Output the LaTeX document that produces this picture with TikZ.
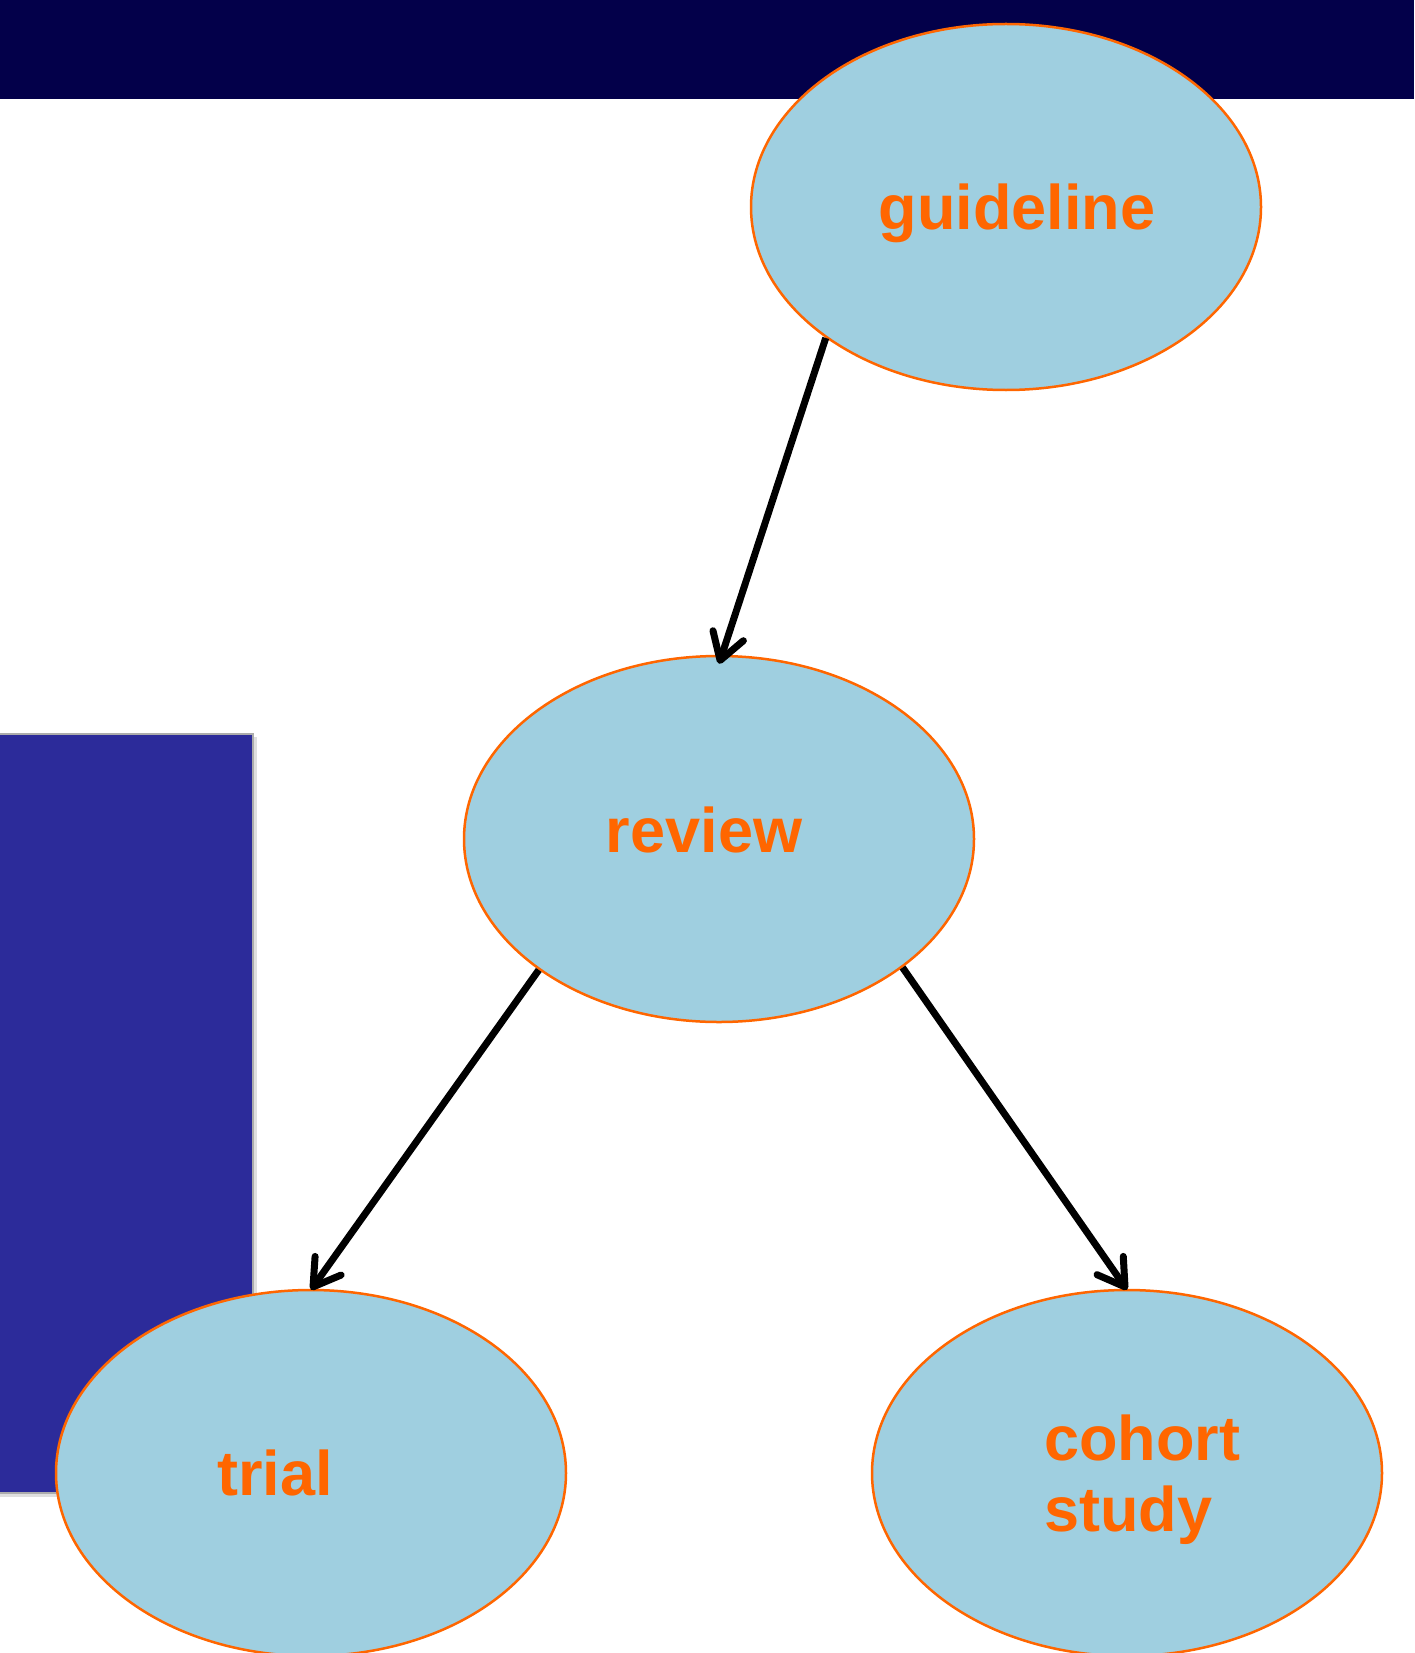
\documentclass[tikz,border=0pt]{standalone}
\usepackage{fontspec}
\setmainfont{Liberation Sans}
\usetikzlibrary{shapes.geometric,arrows.meta}
\definecolor{barnavy}{HTML}{03004A}
\definecolor{panelblue}{HTML}{2C2B9A}
\definecolor{bubble}{HTML}{9FCFE0}
\definecolor{accent}{HTML}{FF6600}
\begin{document}
\begin{tikzpicture}[x=1pt,y=-1pt,
  bubble/.style={ellipse, draw=accent, line width=2.5pt, fill=bubble,
    minimum width=510pt, minimum height=366pt, inner sep=0pt},
  lbl/.style={font=\fontsize{63}{71}\selectfont\bfseries, text=accent, inner sep=0pt},
  link/.style={draw=black, line width=7pt,
    -{Straight Barb[length=26pt, width=32pt, line cap=round, line join=round]}}]
\useasboundingbox (0,0) rectangle (1414,1653);
% top bar
\fill[barnavy] (0,0) rectangle (1414,99);
% left panel with shadow
\fill[gray!25] (0,737) rectangle (257,1497);
\fill[panelblue] (0,734) rectangle (253,1493);
\draw[gray!65, line width=1.5pt] (-2,734) -- (253,734) -- (253,1493) -- (-2,1493);
% ellipses
\node[bubble] (guideline) at (1006,207) {};
\node[bubble] (review) at (719,839) {};
\node[bubble] (trial) at (311,1473) {};
\node[bubble] (cohort) at (1127,1473) {};
% labels
\node[lbl, anchor=base] (tguideline) at (1017,230) {guideline};
\node[lbl, anchor=base] (treview) at (704,852) {review};
\node[lbl, anchor=base] (ttrial) at (275,1495) {trial};
\node[lbl, anchor=base west, align=left] (tcohort) at (1044,1531) {cohort\\study};
% connectors
\draw[link] (guideline.216) -- ([yshift=-9pt]review.north);
\draw[link] (review.216) -- ([yshift=-1pt]trial.north);
\draw[link] (review.-35.6) -- ([yshift=-1pt]cohort.north);
\end{tikzpicture}
\end{document}
